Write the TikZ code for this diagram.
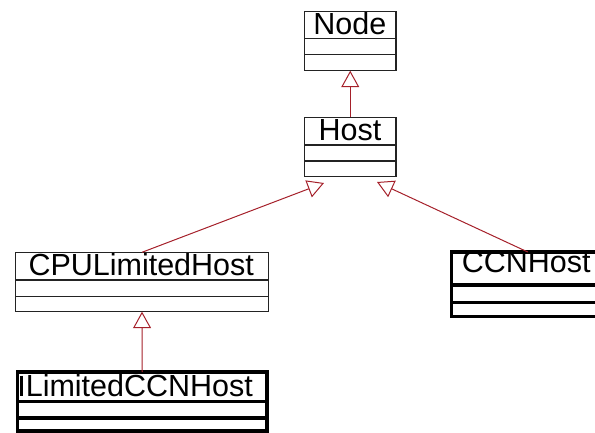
\documentclass[tikz,border=0pt]{standalone}
\usepackage{fontspec}
\setmainfont{Liberation Sans}
\usetikzlibrary{arrows.meta}
\definecolor{inhred}{RGB}{165,32,42}
\definecolor{boxgray}{RGB}{35,35,35}
\tikzset{
  thinbox/.style={draw=boxgray, line width=1.1pt, rectangle, inner sep=0pt, outer sep=0pt, anchor=north west},
  thickbox/.style={draw=black, line width=3.4pt, rectangle, inner sep=0pt, outer sep=0pt, anchor=north west},
  title/.style={anchor=base west, inner sep=0pt, outer sep=0pt, font=\fontsize{30.5}{36}\selectfont},
  thinsep/.style={draw=boxgray, line width=1.1pt},
  thicksep/.style={draw=black, line width=3.4pt},
  inh/.style={draw=inhred, line width=1pt, -{Triangle[open, length=16.5pt, width=18pt]}}
}
\begin{document}
\begin{tikzpicture}[x=1pt, y=-1pt]
\useasboundingbox (0,0) rectangle (595,433);
% Node
\node[thinbox, minimum width=91.5pt, minimum height=59pt] (Node) at (304.5,11.7) {};
\draw[thinsep] (304.5,38.3) -- (396,38.3) (304.5,54.5) -- (396,54.5);
\node[title] (NodeT) at (313.4,34.3) {Node};
% Host
\node[thinbox, minimum width=91.5pt, minimum height=59.4pt] (Host) at (304.5,117.3) {};
\draw[thinsep] (304.5,145) -- (396,145) (304.5,161) -- (396,161);
\node[title] (HostT) at (318.6,140.5) {Host};
% CPULimitedHost
\node[thinbox, minimum width=252.6pt, minimum height=59.4pt] (CPU) at (15.7,252.3) {};
\draw[thinsep] (15.7,280) -- (268.3,280) (15.7,296.7) -- (268.3,296.7);
\node[title] (CPUT) at (28.5,275) {CPULimitedHost};
% LimitedCCNHost
\node[thickbox, minimum width=249.5pt, minimum height=59pt] (Lim) at (17.5,372) {};
\draw[thicksep] (17.5,401.5) -- (267,401.5) (17.5,418) -- (267,418);
\draw[line width=3pt] (21.5,375.5) -- (21.5,396);
\node[title] (LimT) at (25.8,396) {LimitedCCNHost};
% CCNHost
\node[thickbox, minimum width=152.5pt, minimum height=64.5pt] (CCN) at (451.5,252) {};
\draw[thicksep] (451.5,285) -- (604,285) (451.5,302.5) -- (604,302.5);
\node[title] (CCNT) at (461.8,272.7) {CCNHost};
% connector end points
\coordinate (hl) at (324,183);
\coordinate (hr) at (377,182);
% inheritance arrows
\draw[inh] (Host.north) -- (Node.south);
\draw[inh] (CPU.north) -- (hl);
\draw[inh] (CCN.north) -- (hr);
\draw[inh] (Lim.north) -- (CPU.south);
\end{tikzpicture}
\end{document}
